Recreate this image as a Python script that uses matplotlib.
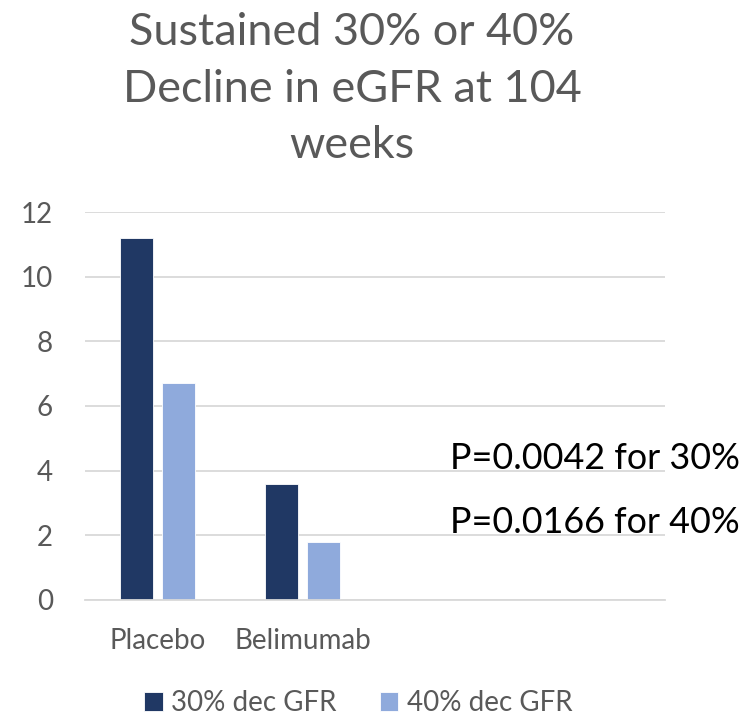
import numpy as np
import matplotlib.pyplot as plt

plt.rcParams['font.family'] = ['Lato', 'DejaVu Sans']

categories = ['Placebo', 'Belimumab', '', '']
dec30 = [11.2, 3.6, np.nan, np.nan]
dec40 = [6.7, 1.8, np.nan, np.nan]
series_names = ['30% dec GFR', '40% dec GFR']
p_texts = ['P=0.0042 for 30%', 'P=0.0166 for 40%']
title_lines = ['Sustained 30% or 40%', 'Decline in eGFR at 104', 'weeks']

dark = '#203864'
light = '#8faadc'
grey = '#595959'

fig = plt.figure(figsize=(7.41, 7.16), dpi=100)
ax = fig.add_axes([85/741, 1-600/716, 580/741, 388/716])

x = np.arange(len(categories))
w = 0.23
b1 = ax.bar(x - 0.143, dec30, w, color=dark, edgecolor='white', linewidth=0.6, label=series_names[0])
b2 = ax.bar(x + 0.143, dec40, w, color=light, edgecolor='white', linewidth=0.6, label=series_names[1])

ax.set_xlim(-0.5, len(categories) - 0.5)
ax.set_ylim(0, 12)
ax.set_yticks(range(0, 13, 2))
ax.set_xticks(x)
ax.set_xticklabels(categories)
ax.grid(axis='y', color='#d9d9d9', linewidth=1.3)
ax.set_axisbelow(True)
for s in ['top', 'right', 'left']:
    ax.spines[s].set_visible(False)
ax.spines['bottom'].set_color('#d9d9d9')
ax.spines['bottom'].set_linewidth(1.3)
ax.tick_params(length=0, colors=grey, labelsize=20)
ax.tick_params(axis='x', pad=20)
ax.tick_params(axis='y', pad=23)

# title, one line at a time (baselines)
for line, base in zip(title_lines, [45, 102, 158]):
    fig.text(352/741, 1-base/716, line, ha='center', va='baseline', fontsize=32.4, color=grey)

for t, base in zip(p_texts, [469, 533]):
    fig.text(450/741, 1-base/716, t, ha='left', va='baseline', fontsize=25.8, color='black')

fig.legend(handles=[b1, b2], loc='center', bbox_to_anchor=(358.5/741, 1-703/716),
           ncol=2, frameon=False, fontsize=20, labelcolor=grey,
           handlelength=0.65, handleheight=0.65, handletextpad=0.32, columnspacing=1.55,
           borderpad=0.2)

fig.savefig('out.png', dpi=100)
